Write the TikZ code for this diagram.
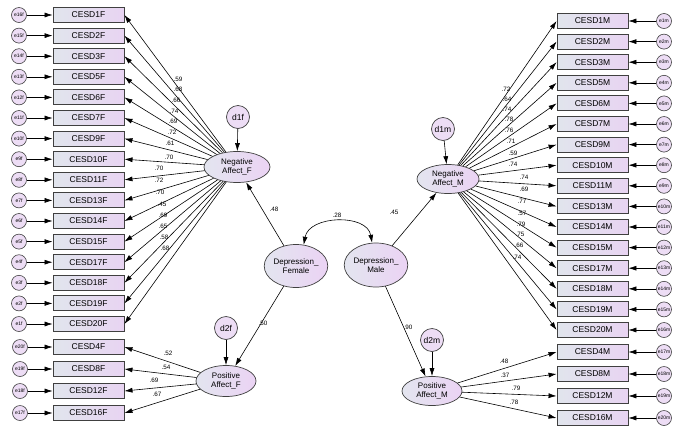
\documentclass[tikz,border=0pt]{standalone}
\usepackage{fontspec}
\setmainfont{Liberation Sans}
\usetikzlibrary{arrows.meta,shapes.geometric}

\definecolor{boxgray}{HTML}{E1E5ED}
\definecolor{boxviolet}{HTML}{E8D4F2}
\definecolor{latgray}{HTML}{E3E5EF}
\definecolor{latviolet}{HTML}{EBD3F4}
\definecolor{errviolet}{HTML}{EDDDF5}

\tikzset{
  obs/.style={draw=black!75, line width=0.9pt, minimum width=71pt, minimum height=15pt,
    inner sep=0pt, left color=boxgray, right color=boxviolet, font=\fontsize{8.5}{9}\selectfont},
  err/.style={circle, draw=black!75, line width=0.6pt, minimum size=15pt, inner sep=0pt,
    fill=errviolet, font=\fontsize{5}{5}\selectfont},
  lat/.style={ellipse, draw=black!75, line width=0.7pt, inner sep=0pt, align=center,
    left color=latgray, right color=latviolet, font=\fontsize{8}{9.5}\selectfont},
  dis/.style={circle, draw=black!75, line width=0.7pt, minimum size=23pt, inner sep=0pt,
    fill=errviolet, font=\fontsize{8.5}{9}\selectfont},
  arr/.style={-{Latex[length=8pt,width=5pt]}, line width=0.6pt},
  est/.style={font=\fontsize{6.3}{6.3}\selectfont, inner sep=0pt},
}

\begin{document}
\begin{tikzpicture}[x=1pt,y=-1pt]
\useasboundingbox (0,0) rectangle (689,432);

% Second order factors
\node[lat, minimum width=54pt, minimum height=43pt] (depf) at (296,266) {Depression\_\\Female};
\node[lat, minimum width=63pt, minimum height=44pt] (depm) at (376,265) {Depression\_\\Male};

% First order factors
\node[lat, minimum width=66pt, minimum height=31pt] (naf) at (237,167) {Negative\\Affect\_F};
\node[lat, minimum width=62pt, minimum height=29pt] (nam) at (448,179) {Negative\\Affect\_M};
\node[lat, minimum width=60pt, minimum height=31pt] (paf) at (226,381) {Positive\\Affect\_F};
\node[lat, minimum width=60pt, minimum height=29pt] (pam) at (432,391) {Positive\\Affect\_M};

% Disturbances
\node[dis] (d1f) at (238,117) {d1f};
\node[dis] (d1m) at (443,129) {d1m};
\node[dis] (d2f) at (226,328) {d2f};
\node[dis] (d2m) at (432,340) {d2m};

\draw[arr] (d1f) -- (naf);
\draw[arr] (d1m) -- (nam);
\draw[arr] (d2f) -- (paf);
\draw[arr] (d2m) -- (pam);

\draw[arr] (depf) -- (naf);
\draw[arr] (depf) -- (paf);
\draw[arr] (depm) -- (nam);
\draw[arr] (depm) -- (pam);
\draw[{Latex[length=8pt,width=5pt]}-{Latex[length=8pt,width=5pt]}, line width=0.6pt]
  (depf.70) .. controls +(-80:30) and +(-100:30) .. (depm.100);

\node[est] at (274,209) {.48};
\node[est] at (394,212) {.45};
\node[est] at (263,323) {.50};
\node[est] at (408,327) {.90};
\node[est] at (337,215) {.28};

% Female items
\foreach \idx/\ee/\yy/\val/\lx/\ly in {
1/16/15/.59/178/79, 2/15/35.6/.68/178/89, 3/14/56.2/.66/176/100,
5/13/76.8/.74/174/111, 6/12/97.4/.69/173/121, 7/11/118/.72/172/132,
9/10/138.6/.61/170/143, 10/9/159.2/.70/169/157, 11/8/179.8/.70/159/168,
13/7/200.4/.72/159/180, 14/6/221/.70/160/192, 15/5/241.6/.45/162/204,
17/4/262.2/.69/163/215, 18/3/282.8/.65/163/226, 19/2/303.4/.58/164/237,
20/1/324/.68/165/248
}
{
\node[obs] (f\idx) at (88.5,\yy) {CESD\idx F};
\node[err] (ef\ee) at (19,\yy) {e\ee f};
\draw[arr] (ef\ee) -- (f\idx);
\draw[arr] (naf) -- (f\idx.east);
\node[est] at (\lx,\ly) {\val};
}

\foreach \idx/\ee/\yy/\val/\lx/\ly in {
4/20/347/.52/168/353, 8/19/369/.54/166/367,
12/18/391/.69/154/380, 16/17/413/.67/157/394
}
{
\node[obs] (f\idx) at (88.5,\yy) {CESD\idx F};
\node[err] (ef\ee) at (20,\yy) {e\ee f};
\draw[arr] (ef\ee) -- (f\idx);
\draw[arr] (paf) -- (f\idx.east);
\node[est] at (\lx,\ly) {\val};
}

% Male items
\foreach \idx/\ee/\yy/\val/\lx/\ly in {
1/1/21/.72/506/89, 2/2/41.6/.64/507/99, 3/3/62.2/.74/507/109,
5/4/82.8/.78/509/119, 6/5/103.4/.76/509/130, 7/6/124/.71/511/141,
9/7/144.6/.59/513/153, 10/8/165.2/.74/513/164, 11/9/185.8/.74/524/177,
13/10/206.4/.69/524/189, 14/11/227/.77/522/201, 15/12/247.6/.57/522/213,
17/13/268.2/.79/521/224, 18/14/288.8/.75/520/234, 19/15/309.4/.66/519/245,
20/16/330/.74/517/257
}
{
\node[obs] (m\idx) at (592.5,\yy) {CESD\idx M};
\node[err] (em\ee) at (664,\yy) {e\ee m};
\draw[arr] (em\ee) -- (m\idx);
\draw[arr] (nam) -- (m\idx.west);
\node[est] at (\lx,\ly) {\val};
}

\foreach \idx/\ee/\yy/\val/\lx/\ly in {
4/17/352/.48/504/361, 8/18/374/.37/505/375,
12/19/396/.79/516/388, 16/20/418/.78/514/402
}
{
\node[obs] (m\idx) at (592.5,\yy) {CESD\idx M};
\node[err] (em\ee) at (664,\yy) {e\ee m};
\draw[arr] (em\ee) -- (m\idx);
\draw[arr] (pam) -- (m\idx.west);
\node[est] at (\lx,\ly) {\val};
}

\end{tikzpicture}
\end{document}
